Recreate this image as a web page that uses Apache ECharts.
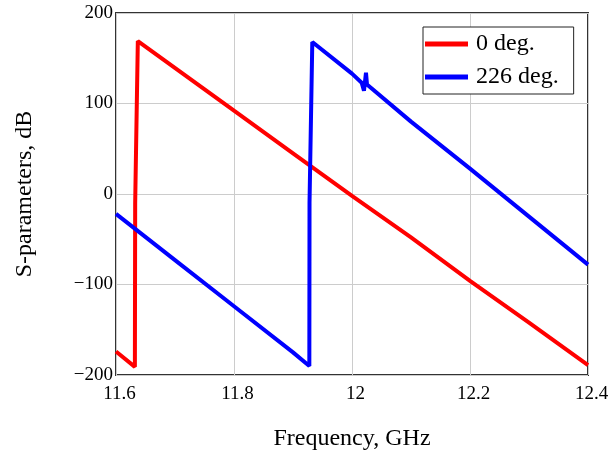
<!DOCTYPE html>
<html>
<head>
<meta charset="utf-8">
<script src="https://cdn.jsdelivr.net/npm/echarts@6/dist/echarts.min.js"></script>
<style>
html,body{margin:0;padding:0;background:#fff;}
#chart{width:612px;height:458px;}
</style>
</head>
<body>
<div id="chart"></div>
<script>
// Frequency (GHz) and S-parameter values (dB)
const redFreq = [11.6, 11.632, 11.6325, 11.6355, 11.637, 11.8, 11.9, 12.0, 12.1, 12.2, 12.3, 12.4];
const redVals = [-174, -191, -10, -10, 169, 92, 45, -2, -48, -96, -142, -189];
const blueFreq = [11.6, 11.7, 11.8, 11.9, 11.9277, 11.928, 11.931, 11.9327, 12.0, 12.0164, 12.0203, 12.0237, 12.0254, 12.1, 12.2, 12.3, 12.4];
const blueVals = [-22, -73, -124, -175, -190, -10, -10, 168, 133, 123, 114, 134, 121, 80, 28, -25, -78];
const seriesNames = ['0 deg.', '226 deg.'];
const xTicks = {min: 11.6, max: 12.4, interval: 0.2};
const yTicks = {min: -200, max: 200, interval: 100};

const font = 'Liberation Serif, Times New Roman, serif';
const pair = (xs, ys) => xs.map((x, i) => [x, ys[i]]);

const chart = echarts.init(document.getElementById('chart'), null, {renderer: 'canvas'});
chart.setOption({
  animation: false,
  backgroundColor: '#ffffff',
  grid: {left: 116, right: 24, top: 13, bottom: 83, show: true, borderColor: '#333333', borderWidth: 2, backgroundColor: 'transparent'},
  legend: {
    orient: 'vertical',
    left: 423, top: 27,
    data: [{name: seriesNames[0], icon: 'rect'}, {name: seriesNames[1], icon: 'rect'}],
    itemWidth: 43, itemHeight: 5, itemGap: 9,
    padding: [5, 15, 5, 2],
    backgroundColor: '#ffffff', borderColor: '#222222', borderWidth: 1,
    textStyle: {fontFamily: font, fontSize: 24, color: '#000', lineHeight: 24, padding: [0, 0, 0, 3]}
  },
  xAxis: {
    type: 'value', min: xTicks.min, max: xTicks.max, interval: xTicks.interval,
    name: 'Frequency, GHz', nameLocation: 'middle', nameGap: 52,
    nameTextStyle: {fontFamily: font, fontSize: 24, color: '#000'},
    axisLine: {show: false}, axisTick: {show: false},
    axisLabel: {fontFamily: font, fontSize: 19, color: '#000', margin: 10, padding: [0, 0, 0, 7],
      formatter: v => String(parseFloat(v.toFixed(2)))},
    splitLine: {show: true, lineStyle: {color: '#cccccc', width: 1}}
  },
  yAxis: {
    type: 'value', min: yTicks.min, max: yTicks.max, interval: yTicks.interval,
    name: 'S-parameters, dB', nameLocation: 'middle', nameGap: 79, nameRotate: 90,
    nameTextStyle: {fontFamily: font, fontSize: 24, color: '#000'},
    axisLine: {show: false}, axisTick: {show: false},
    axisLabel: {fontFamily: font, fontSize: 19, color: '#000', margin: 3, padding: [3, 0, 0, 0],
      formatter: v => (v < 0 ? '\u2212' + Math.abs(v) : String(v))},
    splitLine: {show: true, lineStyle: {color: '#cccccc', width: 1}}
  },
  series: [
    {name: seriesNames[0], type: 'line', data: pair(redFreq, redVals), showSymbol: false, symbol: 'none',
      lineStyle: {color: '#ff0000', width: 4}, itemStyle: {color: '#ff0000'}, z: 3},
    {name: seriesNames[1], type: 'line', data: pair(blueFreq, blueVals), showSymbol: false, symbol: 'none',
      lineStyle: {color: '#0000ff', width: 4}, itemStyle: {color: '#0000ff'}, z: 4}
  ]
});
</script>
</body>
</html>
